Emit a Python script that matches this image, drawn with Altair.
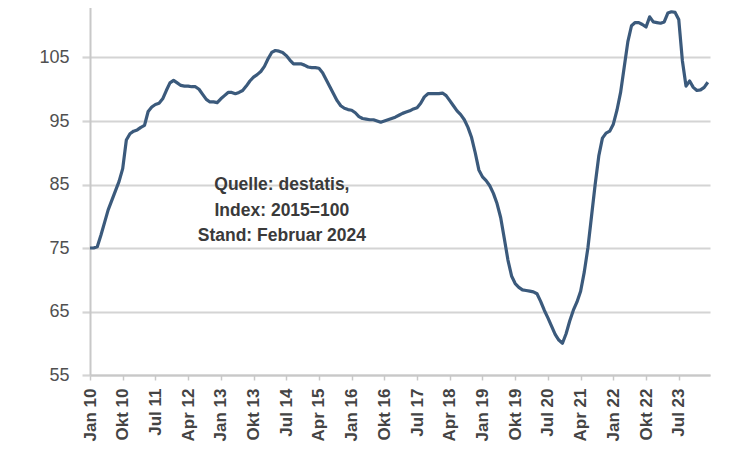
import altair as alt
import pandas as pd

# Monthly index values, Jan 2010 .. Mar 2024
y2010 = [75.0, 75.0, 75.2, 77.0, 79.0, 81.0, 82.5, 84.0, 85.5, 87.5, 92.0, 93.0]
y2011 = [93.4, 93.6, 94.0, 94.3, 96.5, 97.2, 97.6, 97.8, 98.5, 99.8, 101.0, 101.4]
y2012 = [101.0, 100.6, 100.5, 100.5, 100.4, 100.4, 100.0, 99.2, 98.4, 98.0, 98.0, 97.9]
y2013 = [98.5, 99.0, 99.5, 99.5, 99.3, 99.5, 99.8, 100.5, 101.3, 101.9, 102.3, 102.8]
y2014 = [103.6, 104.8, 105.8, 106.1, 106.0, 105.8, 105.3, 104.6, 104.0, 104.0, 104.0, 103.8]
y2015 = [103.5, 103.4, 103.4, 103.3, 102.6, 101.5, 100.4, 99.3, 98.2, 97.4, 97.0, 96.8]
y2016 = [96.7, 96.3, 95.7, 95.4, 95.3, 95.2, 95.2, 95.0, 94.8, 95.0, 95.2, 95.4]
y2017 = [95.6, 95.9, 96.2, 96.4, 96.6, 96.9, 97.1, 97.8, 98.8, 99.3, 99.3, 99.3]
y2018 = [99.3, 99.4, 99.0, 98.2, 97.4, 96.6, 96.0, 95.2, 94.0, 92.4, 90.0, 87.3]
y2019 = [86.2, 85.6, 84.8, 83.6, 82.0, 79.8, 76.5, 73.1, 70.6, 69.4, 68.8, 68.4]
y2020 = [68.3, 68.2, 68.1, 67.8, 66.6, 65.2, 64.0, 62.7, 61.4, 60.5, 60.0, 61.5]
y2021 = [63.5, 65.2, 66.5, 68.2, 71.2, 75.0, 80.0, 85.0, 89.5, 92.3, 93.1, 93.4]
y2022 = [94.5, 96.7, 99.5, 103.5, 107.5, 110.0, 110.5, 110.5, 110.2, 109.8, 111.4, 110.6]
y2023 = [110.5, 110.4, 110.6, 112.0, 112.2, 112.1, 111.0, 104.5, 100.5, 101.3, 100.3, 99.8]
y2024 = [99.9, 100.3, 101.1]

tick_labels = ["Jan 10", "Okt 10", "Jul 11", "Apr 12", "Jan 13", "Okt 13", "Jul 14",
               "Apr 15", "Jan 16", "Okt 16", "Jul 17", "Apr 18", "Jan 19", "Okt 19",
               "Jul 20", "Apr 21", "Jan 22", "Okt 22", "Jul 23"]
tick_step = 9
y_ticks = [55, 65, 75, 85, 95, 105]

note_lines = ["Quelle: destatis,", "Index: 2015=100", "Stand: Februar  2024"]
note_pos = {"x": [52.8], "y": [84.9]}

values = (y2010 + y2011 + y2012 + y2013 + y2014 + y2015 + y2016 + y2017 +
          y2018 + y2019 + y2020 + y2021 + y2022 + y2023 + y2024)
df = pd.DataFrame({"m": list(range(len(values))), "v": values})

label_arr = "[" + ",".join("'" + s + "'" for s in tick_labels) + "]"
label_expr = label_arr + "[round(datum.value/%d)]" % tick_step

x_scale = alt.Scale(domain=[0, 170.6], nice=False, zero=False)
y_scale = alt.Scale(domain=[55, 115], nice=False, zero=False)

line = alt.Chart(df).mark_line(color="#3b5a7c", strokeWidth=3.2, strokeJoin="round").encode(
    x=alt.X("m:Q", scale=x_scale,
            axis=alt.Axis(values=[i * tick_step for i in range(len(tick_labels))],
                          tickCount=len(tick_labels) + 10,
                          labelExpr=label_expr, labelAngle=-90, grid=False,
                          labelOverlap=False, labelBound=False, labelFlush=False,
                          title=None, labelFontSize=17, labelFont="Liberation Sans",
                          labelFontWeight="bold", labelColor="#444444",
                          tickSize=5, tickColor="#c8c8c8", tickWidth=1.5,
                          domainColor="#c8c8c8", domainWidth=2, labelPadding=8)),
    y=alt.Y("v:Q", scale=y_scale,
            axis=alt.Axis(values=y_ticks, tickCount=20, title=None, labelFontSize=18,
                          labelFont="Liberation Sans", labelColor="#505050",
                          grid=True, gridColor="#d4d4d4", gridWidth=2.2,
                          tickSize=8, tickColor="#d4d4d4", tickWidth=2.2,
                          domainColor="#c8c8c8", domainWidth=2, labelPadding=13)),
)

note = alt.Chart(pd.DataFrame(note_pos)).mark_text(
    font="Liberation Sans", fontSize=17.5, fontWeight="bold", color="#3a3a3a",
    align="center", baseline="middle", lineHeight=25.5,
).encode(
    x=alt.X("x:Q", scale=x_scale),
    y=alt.Y("y:Q", scale=y_scale),
    text=alt.value(note_lines),
)

chart = alt.layer(line, note).properties(
    width=620, height=381,
    padding={"left": 82, "top": -14, "right": 16, "bottom": 67},
    autosize=alt.AutoSizeParams(type="none"),
).configure_view(stroke=None)

chart.save("out.html", embed_options={"renderer": "svg", "actions": False})
